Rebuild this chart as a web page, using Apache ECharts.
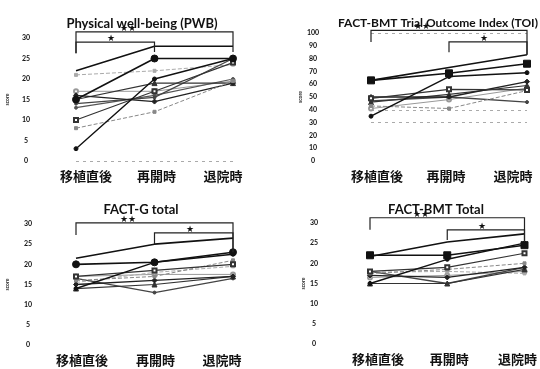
<!DOCTYPE html>
<html>
<head>
<meta charset="utf-8">
<script src="https://cdn.jsdelivr.net/npm/echarts@6/dist/echarts.min.js"></script>
<style>
  html, body { margin: 0; padding: 0; background: #fff; }
  #chart { width: 540px; height: 369px; }
</style>
</head>
<body>
<div id="chart"></div>
<script>
// Assessment time points
const timePoints = ['移植直後', '再開時', '退院時'];

// Per-patient scores at each time point
const pwbScores = [
  [22, 28, 28],
  [15, 25, 25],
  [3, 20, 25],
  [10, 17, 24],
  [8, 12, 19.5],
  [16, 14.5, 19],
  [15, 19, 19],
  [14, 15.5, 25],
  [17, 17, 19.5],
  [21, 22, 23.5],
  [13, 16, 20]
];
const toiScores = [
  [63, 73, 83],
  [63, 68.5, 76],
  [35, 66, 69],
  [49, 56, 55.5],
  [43, 41, 55],
  [50, 50, 62],
  [46, 52, 59],
  [47, 50, 46],
  [41, 48, 57]
];
const factGScores = [
  [21.5, 25, 26.5],
  [20, 20.5, 23],
  [14, 20.5, 22.5],
  [17, 18.5, 20],
  [16, 17, 21],
  [15, 16, 17],
  [14, 15, 17],
  [16.5, 13, 16.5],
  [17, 17.5, 17.5],
  [15.5, 18, 19.5]
];
const bmtTotalScores = [
  [21.7, 25.3, 27.3],
  [22, 22, 24.5],
  [15, 21, 25],
  [18, 19, 22.5],
  [17.5, 18.5, 20],
  [17, 16.5, 19],
  [15, 15, 18.5],
  [18, 15, 19],
  [16.5, 17, 18],
  [17.8, 18, 17.5]
];

// Significance brackets: [from, to, bar level, left foot, right foot]
const pwbBrackets = [[0, 2, 31.5, 26.3, 26.6], [0, 1, 29, 26.3, 26.6]];
const toiBrackets = [[0, 2, 102, 93, 83], [1, 2, 93, 85, 83]];
const factGBrackets = [[0, 2, 30.3, 27.3, 23], [1, 2, 27.8, 25, 23]];
const bmtTotalBrackets = [[0, 2, 31.3, 28.3, 25.3], [1, 2, 28.3, 25.8, 25.3]];
const bracketMarks = ['★★', '★'];

// Line / marker appearance per patient row
const rowStyles = [
  { symbol: 'none', size: 0, color: '#111', type: 'solid', width: 1.6 },
  { symbol: 'big', size: 7, color: '#111', type: 'solid', width: 1.6 },
  { symbol: 'circle', size: 4, color: '#111', type: 'solid', width: 1.4 },
  { symbol: 'emptyRect', size: 4, color: '#333', type: 'solid', width: 1.2 },
  { symbol: 'rect', size: 3, color: '#888', type: 'dashed', width: 1 },
  { symbol: 'diamond', size: 5, color: '#222', type: 'solid', width: 1.3 },
  { symbol: 'triangle', size: 5, color: '#333', type: 'solid', width: 1.2 },
  { symbol: 'circle', size: 3, color: '#444', type: 'solid', width: 1.3 },
  { symbol: 'emptyCircle', size: 4, color: '#999', type: 'solid', width: 1 },
  { symbol: 'rect', size: 3, color: '#aaa', type: 'dashed', width: 1 },
  { symbol: 'circle', size: 3, color: '#555', type: 'solid', width: 1.2 }
];

const panels = [
  { title: 'Physical well-being (PWB)', scores: pwbScores, brackets: pwbBrackets, max: 30, interval: 5,
    grid: { left: 76, top: 38, width: 157, height: 123 }, titleAt: [137, 12], titleSize: 13,
    labelMargin: 50, nameGap: 66, labelShift: [10, 2, -10], big: 'circle', refLines: [0] },
  { title: 'FACT-BMT Trial Outcome Index (TOI)', scores: toiScores, brackets: toiBrackets, max: 100, interval: 10,
    grid: { left: 371, top: 33, width: 156, height: 128 }, titleAt: [433, 12], titleSize: 12,
    labelMargin: 58, nameGap: 65, labelShift: [6, -3, -14], big: 'rect', refLines: [100, 40, 30] },
  { title: 'FACT-G total', scores: factGScores, brackets: factGBrackets, max: 30, interval: 5,
    grid: { left: 76, top: 224, width: 157, height: 121 }, titleAt: [136, 198], titleSize: 13,
    labelMargin: 48, nameGap: 66, labelShift: [6, 1, -11], big: 'circle', refLines: [] },
  { title: 'FACT-BMT Total', scores: bmtTotalScores, brackets: bmtTotalBrackets, max: 30, interval: 5,
    grid: { left: 370, top: 223, width: 157, height: 121 }, titleAt: [431, 198], titleSize: 13,
    labelMargin: 56, nameGap: 62, labelShift: [8, 2, -7], big: 'rect', refLines: [] }
];

const latin = 'Lato, "Open Sans", sans-serif';
const cjk = '"Noto Sans CJK JP", sans-serif';

function shiftRich(shifts) {
  const rich = {};
  shifts.forEach((s, i) => {
    rich['s' + i] = {
      fontFamily: cjk, fontSize: 13, fontWeight: 'bold', color: '#111',
      padding: s >= 0 ? [0, 0, 0, 2 * s] : [0, -2 * s, 0, 0]
    };
  });
  return rich;
}

function bracketRenderer() {
  return function (params, api) {
    const x1 = api.value(0), x2 = api.value(1);
    const top = api.value(2), f1 = api.value(3), f2 = api.value(4);
    const a = api.coord([x1, top]), b = api.coord([x2, top]);
    const fa = api.coord([x1, f1]), fb = api.coord([x2, f2]);
    const mark = bracketMarks[params.dataIndex];
    const frac = mark.length > 1 ? 0.33 : 0.45;
    return {
      type: 'group',
      children: [
        { type: 'polyline', shape: { points: [fa, a, b, fb] },
          style: { stroke: '#222', lineWidth: 1.2, fill: null } },
        { type: 'text', style: { text: mark, x: a[0] + (b[0] - a[0]) * frac, y: a[1] + 1,
          align: 'center', verticalAlign: 'bottom', fontSize: 9, fill: '#111' } }
      ]
    };
  };
}

const option = {
  animation: false,
  backgroundColor: '#fff',
  title: panels.map(p => ({
    text: p.title, left: p.titleAt[0], top: p.titleAt[1], textAlign: 'center',
    textStyle: { fontFamily: latin, fontSize: p.titleSize, fontWeight: 'bold', color: '#111' }
  })),
  grid: panels.map(p => Object.assign({ containLabel: false }, p.grid)),
  xAxis: panels.map((p, i) => ({
    type: 'category', gridIndex: i, data: timePoints, boundaryGap: false,
    axisLine: { show: false }, axisTick: { show: false }, splitLine: { show: false },
    axisLabel: {
      interval: 0, margin: 9,
      formatter: (v, idx) => '{s' + idx + '|' + v + '}',
      rich: shiftRich(p.labelShift)
    }
  })),
  yAxis: panels.map((p, i) => ({
    type: 'value', gridIndex: i, min: 0, max: p.max, interval: p.interval,
    name: 'score', nameLocation: 'middle', nameRotate: 90, nameGap: p.nameGap,
    nameTextStyle: { fontFamily: latin, fontSize: 5, fontWeight: 'bold', color: '#222' },
    axisLine: { show: false }, axisTick: { show: false }, splitLine: { show: false },
    axisLabel: { margin: p.labelMargin, align: 'center', fontFamily: latin, fontSize: 7,
      fontWeight: 'bold', color: '#111' }
  })),
  series: []
};

panels.forEach((p, i) => {
  p.scores.forEach((row, r) => {
    const st = rowStyles[r];
    const sym = st.symbol === 'big' ? p.big : st.symbol;
    const s = {
      type: 'line', xAxisIndex: i, yAxisIndex: i, data: row,
      symbol: sym, symbolSize: st.size, showSymbol: sym !== 'none',
      lineStyle: { color: st.color, width: st.width, type: st.type },
      itemStyle: { color: st.color, borderColor: st.color, borderWidth: 1 },
      z: 10 - Math.min(r, 8) * 0.5
    };
    if (r === 0 && p.refLines.length) {
      s.markLine = {
        silent: true, symbol: 'none', label: { show: false },
        lineStyle: { color: '#aaa', type: [3, 4], width: 1 },
        data: p.refLines.map(v => ({ yAxis: v }))
      };
    }
    option.series.push(s);
  });
  option.series.push({
    type: 'custom', xAxisIndex: i, yAxisIndex: i, clip: false,
    data: p.brackets, renderItem: bracketRenderer(), z: 20,
    encode: { x: [0, 1], y: [2, 3, 4] }
  });
});

const chart = echarts.init(document.getElementById('chart'), null, { renderer: 'canvas' });
chart.setOption(option);
</script>
</body>
</html>
